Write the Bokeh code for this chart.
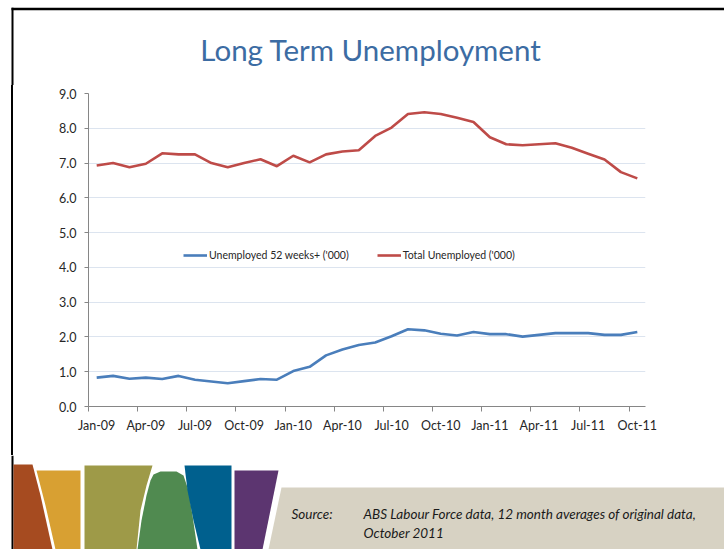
from bokeh.plotting import figure
from bokeh.layouts import column, row
from bokeh.models import Range1d, FixedTicker, PrintfTickFormatter, Legend, LegendItem, Div, Spacer
from bokeh.core.properties import value
from bokeh.embed import file_html
from bokeh.resources import INLINE

# ---------------- data ----------------
months = ["Jan-09", "Feb-09", "Mar-09", "Apr-09", "May-09", "Jun-09", "Jul-09", "Aug-09",
          "Sep-09", "Oct-09", "Nov-09", "Dec-09", "Jan-10", "Feb-10", "Mar-10", "Apr-10",
          "May-10", "Jun-10", "Jul-10", "Aug-10", "Sep-10", "Oct-10", "Nov-10", "Dec-10",
          "Jan-11", "Feb-11", "Mar-11", "Apr-11", "May-11", "Jun-11", "Jul-11", "Aug-11",
          "Sep-11", "Oct-11"]
long_term = [0.83, 0.88, 0.80, 0.83, 0.79, 0.88, 0.77, 0.72, 0.67, 0.73, 0.79, 0.77,
             1.02, 1.14, 1.47, 1.64, 1.77, 1.84, 2.02, 2.22, 2.19, 2.09, 2.04, 2.14,
             2.08, 2.08, 2.01, 2.06, 2.11, 2.11, 2.11, 2.06, 2.06, 2.14]
total = [6.93, 7.00, 6.88, 6.98, 7.28, 7.25, 7.25, 7.00, 6.88, 7.00, 7.11, 6.91,
         7.21, 7.02, 7.25, 7.33, 7.37, 7.78, 8.02, 8.41, 8.46, 8.41, 8.30, 8.18,
         7.74, 7.54, 7.51, 7.54, 7.57, 7.44, 7.27, 7.10, 6.74, 6.56]
series_names = ["Unemployed 52 weeks+ ('000)", "Total Unemployed ('000)"]
title_text = "Long Term Unemployment"
source_label = "Source:"
source_lines = ["ABS Labour Force data, 12 month averages of original data,", "October 2011"]

FONT = "Lato"
BLUE = "#4A7EBB"
RED = "#BE4B48"

xs = list(range(len(months)))
label_ticks = xs[::3]
boundary_ticks = [i - 0.5 for i in label_ticks]


def blank(width, height, xr, yr):
    f = figure(width=width, height=height, x_range=xr, y_range=yr,
               output_backend="svg", toolbar_location=None,
               x_axis_location=None, y_axis_location=None, min_border=0)
    f.grid.visible = False
    f.outline_line_color = None
    f.background_fill_color = "white"
    f.border_fill_color = "white"
    return f


# ---------------- header ----------------
header = blank(724, 85, Range1d(0, 724), Range1d(85, 0))
header.segment(x0=[11], y0=[8.5], x1=[724], y1=[8.5], line_color="black", line_width=2.5)
header.segment(x0=[12], y0=[7.3], x1=[12], y1=[85], line_color="black", line_width=2)
header.text(x=[370.5], y=[49], text=[title_text], text_font=value(FONT),
            text_font_size="29.5px", text_color="#3C6CA3", text_align="center",
            text_baseline="alphabetic")

# ---------------- left strip (page border) ----------------
strip_pad = Spacer(width=11, height=370, margin=0)
strip_line = Div(text="", width=2, height=370, margin=0,
                 styles={"background-color": "black"})
strip_gap = Spacer(width=1, height=370, margin=0)

# ---------------- main chart ----------------
p = figure(width=710, height=370, x_range=Range1d(-0.5, 33.5), y_range=Range1d(0, 9),
           output_backend="svg", toolbar_location=None,
           min_border_left=74, min_border_right=79, min_border_top=8, min_border_bottom=49)
p.outline_line_color = None
p.background_fill_color = "white"
p.border_fill_color = "white"
p.xgrid.visible = False
p.ygrid.grid_line_color = "#DCE4EF"
p.ygrid.grid_line_width = 1.2

p.yaxis.ticker = FixedTicker(ticks=list(range(10)))
p.yaxis.formatter = PrintfTickFormatter(format="%.1f")
p.xaxis.ticker = FixedTicker(ticks=label_ticks, minor_ticks=boundary_ticks)
p.xaxis.major_label_overrides = {i: months[i] for i in label_ticks}

for ax in (p.xaxis[0], p.yaxis[0]):
    ax.axis_line_color = "#868686"
    ax.major_tick_line_color = "#868686"
    ax.minor_tick_line_color = "#868686"
    ax.major_label_text_font = FONT
    ax.major_label_text_font_size = "12.5px"
    ax.major_label_text_color = "#262626"
p.yaxis.major_tick_out = 4
p.yaxis.major_tick_in = 0
p.yaxis.minor_tick_out = 0
p.yaxis.minor_tick_in = 0
p.yaxis.major_label_standoff = 8
p.xaxis.major_tick_out = 0
p.xaxis.major_tick_in = 0
p.xaxis.minor_tick_out = 5
p.xaxis.minor_tick_in = 0
p.xaxis.major_label_standoff = 6

r1 = p.line(xs, long_term, line_color=BLUE, line_width=2.6)
r2 = p.line(xs, total, line_color=RED, line_width=2.6)

legend = Legend(items=[LegendItem(label=series_names[0], renderers=[r1]),
                       LegendItem(label=series_names[1], renderers=[r2])],
                orientation="horizontal", location=(95, 145))
legend.padding = 0
legend.margin = 0
legend.spacing = 28
legend.label_standoff = 2
legend.glyph_width = 24
legend.glyph_height = 10
legend.label_height = 12
legend.label_text_font = FONT
legend.label_text_font_size = "10.5px"
legend.label_text_color = "#262626"
legend.border_line_color = None
legend.background_fill_alpha = 0
p.add_layout(legend)

# ---------------- footer ----------------
footer = blank(724, 94, Range1d(0, 724), Range1d(549, 455))
footer.segment(x0=[12], y0=[455], x1=[12], y1=[549], line_color="black", line_width=2)
deco_xs = [
    [281, 724, 724, 268],
    [13, 32, 40, 52, 13],
    [36, 80, 80, 55, 45],
    [84, 152, 146, 140, 136, 84],
    [137, 141, 146, 150, 153, 160, 176, 183, 188, 192, 197],
    [184, 231, 231, 200, 193, 187],
    [234, 278, 262, 234],
]
deco_ys = [
    [487, 487, 549, 549],
    [464, 464, 495, 549, 549],
    [470, 470, 549, 549, 505],
    [465, 465, 485, 510, 549, 549],
    [549, 520, 495, 480, 474, 471, 471, 475, 490, 515, 549],
    [465, 465, 549, 549, 520, 490],
    [470, 470, 549, 549],
]
deco_colors = ["#D7D2C3", "#A64B20", "#D8A032", "#9E9A48", "#508A50", "#00608E", "#5C3570"]
footer.patches(deco_xs, deco_ys, fill_color=deco_colors, line_color=None)
footer.text(x=[291], y=[513], text=[source_label], text_font=value(FONT),
            text_font_style="italic", text_font_size="13.5px", text_color="#1A1A1A",
            text_baseline="middle")
footer.text(x=[363, 363], y=[513, 532], text=source_lines, text_font=value(FONT),
            text_font_style="italic", text_font_size="13.5px", text_color="#1A1A1A",
            text_baseline="middle")

layout = column(header, row(strip_pad, strip_line, strip_gap, p, spacing=0), footer, spacing=0)
open("out.html", "w").write(file_html(layout, INLINE))
